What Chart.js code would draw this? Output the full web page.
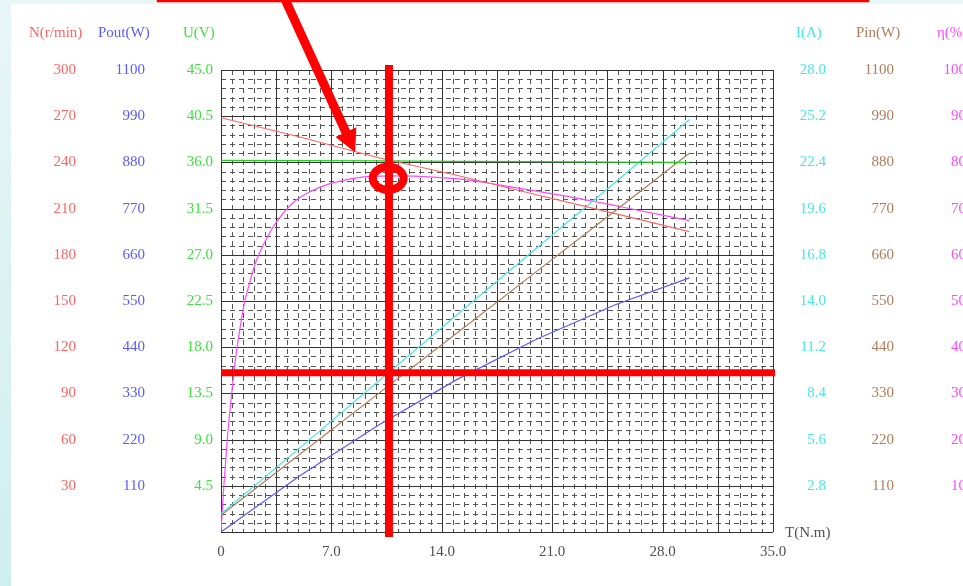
<!DOCTYPE html>
<html>
<head>
<meta charset="utf-8">
<script src="https://cdn.jsdelivr.net/npm/chart.js@4"></script>
<style>
html, body { margin: 0; padding: 0; overflow: hidden; background: #fff; }
#wrap { position: relative; width: 966px; height: 586px; }
</style>
</head>
<body>
<div id="wrap"><canvas id="motorChart"></canvas></div>
<script>
// torque points (N.m)
const torque = [0, 5, 10, 15, 20, 25, 29.7];
const speed = [269, 256.5, 243, 231.5, 219, 206.7, 195];
const outPower = [0, 134, 255, 364, 459, 541, 605];
const voltage = [36.2, 36.17, 36.14, 36.1, 36.07, 36.03, 36.0];
const current = [1.1, 5.1, 9.15, 13.2, 17.2, 21.2, 25.0];
const inPower = [40, 185, 330, 475, 620, 765, 902];

// efficiency curve needs more points near zero
const torqueEff = [0, 0.2, 0.42, 0.68, 0.93, 1.2, 1.48, 1.84, 2.16, 2.9, 3.53, 4.48, 5.0, 5.54, 6.8, 7.76, 9.2, 11.35, 13.5, 15.6, 17.7, 21.5, 25.5, 29.7];
const efficiency = [0, 11, 21, 30, 37.8, 44, 49.5, 54.2, 58, 63.6, 67.2, 71.0, 72.4, 73.5, 75.3, 76.1, 76.9, 77.1, 76.8, 76.2, 75.1, 72.9, 70.3, 67.4];

// cursor marks drawn on the screenshot (in T / U units)
const cursorT = 10.65;
const cursorU = 15.5;
const circleT = 10.6;
const circleU = 34.45;
const arrowTipT = 8.5;
const arrowTipU = 37.0;

const colors = {
    N: "#ff6464", Pout: "#5a5aff", U: "#3ee03e",
    I: "#48e6e6", Pin: "#b27c5a", eta: "#ff48ff"
};

function pts(xs, ys) {
    return xs.map((x, i) => ({ x: x, y: ys[i] }));
}

Chart.defaults.font.family = "'Liberation Serif', 'DejaVu Serif', serif";
Chart.defaults.font.size = 15;

const headers = [
    { id: "yN", text: "N(r/min)", dx: -47, color: colors.N },
    { id: "yPout", text: "Pout(W)", dx: -47, color: colors.Pout },
    { id: "yU", text: "U(V)", dx: -30, color: colors.U },
    { id: "yI", text: "I(A)", dx: -30, color: colors.I },
    { id: "yPin", text: "Pin(W)", dx: -38, color: colors.Pin },
    { id: "yEta", text: "η(%)", dx: -29, color: colors.eta }
];

const backdrop = {
    id: "backdrop",
    beforeDraw(chart) {
        const ctx = chart.ctx;
        const w = chart.width, h = chart.height;
        ctx.save();
        ctx.fillStyle = "#fff";
        ctx.fillRect(0, 0, w, h);
        const g = ctx.createLinearGradient(0, 0, 0, h);
        g.addColorStop(0, "#e8f6f6");
        g.addColorStop(1, "#cfeeee");
        ctx.fillStyle = g;
        ctx.fillRect(0, 0, 11, h);
        ctx.fillStyle = "#e8f6f6";
        ctx.fillRect(0, 0, w, 4);
        ctx.restore();
    },
    beforeDatasetsDraw(chart) {
        const ctx = chart.ctx;
        const ca = chart.chartArea;
        const xs = chart.scales.x;
        const ys = chart.scales.yU;
        ctx.save();
        ctx.lineWidth = 1;
        // minor dashed grid
        ctx.strokeStyle = "#555";
        ctx.setLineDash([5, 4]);
        for (let i = 1; i < 50; i++) {
            if (i % 5 === 0) continue;
            const px = Math.round(xs.getPixelForValue(i * 0.7)) + 0.5;
            ctx.beginPath(); ctx.moveTo(px, ca.top); ctx.lineTo(px, ca.bottom); ctx.stroke();
        }
        for (let j = 1; j < 50; j++) {
            if (j % 5 === 0) continue;
            const py = Math.round(ys.getPixelForValue(j * 0.9)) + 0.5;
            ctx.beginPath(); ctx.moveTo(ca.left, py); ctx.lineTo(ca.right, py); ctx.stroke();
        }
        // major grid
        ctx.setLineDash([]);
        ctx.strokeStyle = "#333";
        for (let i = 0; i <= 10; i++) {
            const px = Math.round(xs.getPixelForValue(i * 3.5)) + 0.5;
            ctx.beginPath(); ctx.moveTo(px, ca.top); ctx.lineTo(px, ca.bottom); ctx.stroke();
            const py = Math.round(ys.getPixelForValue(i * 4.5)) + 0.5;
            ctx.beginPath(); ctx.moveTo(ca.left, py); ctx.lineTo(ca.right, py); ctx.stroke();
        }
        // axis headers
        ctx.textBaseline = "middle";
        ctx.textAlign = "left";
        ctx.font = "15px 'Liberation Serif', serif";
        headers.forEach(hd => {
            const s = chart.scales[hd.id];
            const labelRight = s.position === "left" ? s.right - s.options.ticks.padding : s.right;
            ctx.fillStyle = hd.color;
            ctx.fillText(hd.text, labelRight + hd.dx, 33);
        });
        ctx.fillStyle = "#505050";
        ctx.fillText("T(N.m)", ca.right + 12, 533);
        ctx.restore();
    },
    afterDraw(chart) {
        const ctx = chart.ctx;
        const ca = chart.chartArea;
        const xs = chart.scales.x;
        const ys = chart.scales.yU;
        ctx.save();
        ctx.strokeStyle = "#ff0000";
        ctx.fillStyle = "#ff0000";
        // box edge at the top
        ctx.lineWidth = 2.5;
        ctx.strokeRect(158, -50, 710, 51);
        // cursor lines
        const cx = xs.getPixelForValue(cursorT);
        const cy = ys.getPixelForValue(cursorU);
        ctx.lineWidth = 8;
        ctx.beginPath(); ctx.moveTo(cx, ca.top - 5); ctx.lineTo(cx, ca.bottom + 5); ctx.stroke();
        ctx.lineWidth = 7;
        ctx.beginPath(); ctx.moveTo(ca.left, cy); ctx.lineTo(ca.right + 2, cy); ctx.stroke();
        // circle
        ctx.lineWidth = 8;
        ctx.beginPath();
        ctx.ellipse(xs.getPixelForValue(circleT), ys.getPixelForValue(circleU), 15.5, 11.5, 0, 0, Math.PI * 2);
        ctx.stroke();
        // arrow
        const tx = xs.getPixelForValue(arrowTipT), ty = ys.getPixelForValue(arrowTipU);
        const len = Math.hypot(0.458, 1);
        const dx = 0.458 / len, dy = 1 / len;
        ctx.lineWidth = 9;
        ctx.beginPath();
        ctx.moveTo(tx - dx * 175, ty - dy * 175);
        ctx.lineTo(tx - dx * 18, ty - dy * 18);
        ctx.stroke();
        const bx = tx - dx * 22, by = ty - dy * 22;
        ctx.beginPath();
        ctx.moveTo(tx, ty);
        ctx.lineTo(bx + dy * 11.5, by - dx * 11.5);
        ctx.lineTo(bx - dy * 11.5, by + dx * 11.5);
        ctx.closePath();
        ctx.fill();
        ctx.restore();
    }
};

function yAxis(pos, weight, width, max, step, color, pad, digits) {
    return {
        type: "linear",
        position: pos,
        weight: weight,
        min: 0,
        max: max,
        grid: { display: false, drawTicks: false },
        border: { display: false },
        ticks: {
            stepSize: step,
            color: color,
            padding: pad,
            crossAlign: pos === "right" ? "far" : "near",
            callback: v => v === 0 ? "" : v.toFixed(digits)
        },
        afterFit: s => { s.width = width; }
    };
}

new Chart(document.getElementById("motorChart"), {
    type: "line",
    data: {
        datasets: [
            { label: "N", data: pts(torque, speed), yAxisID: "yN", borderColor: colors.N },
            { label: "Pout", data: pts(torque, outPower), yAxisID: "yPout", borderColor: colors.Pout },
            { label: "U", data: pts(torque, voltage), yAxisID: "yU", borderColor: "#22d022" },
            { label: "I", data: pts(torque, current), yAxisID: "yI", borderColor: colors.I },
            { label: "Pin", data: pts(torque, inPower), yAxisID: "yPin", borderColor: colors.Pin },
            { label: "eta", data: pts(torqueEff, efficiency), yAxisID: "yEta", borderColor: colors.eta,
              cubicInterpolationMode: "monotone" }
        ]
    },
    options: {
        responsive: true,
        maintainAspectRatio: false,
        animation: false,
        layout: { padding: { top: 70, left: 0, right: 0, bottom: 0 } },
        elements: {
            point: { radius: 0 },
            line: { borderWidth: 1.2, fill: false }
        },
        plugins: {
            legend: { display: false },
            tooltip: { enabled: false }
        },
        scales: {
            x: {
                type: "linear",
                position: "bottom",
                min: 0,
                max: 35,
                grid: { display: false, drawTicks: false },
                border: { display: false },
                ticks: {
                    stepSize: 3.5,
                    autoSkip: false,
                    maxRotation: 0,
                    color: "#505050",
                    padding: 11,
                    callback: v => {
                        const k = v / 7;
                        if (Math.abs(k - Math.round(k)) > 1e-6) return "";
                        return v === 0 ? "0" : v.toFixed(1);
                    }
                },
                afterFit: s => { s.height = 54; }
            },
            yN: yAxis("left", 2, 80, 300, 30, colors.N, 4, 0),
            yPout: yAxis("left", 1, 70, 1100, 110, colors.Pout, 5, 0),
            yU: yAxis("left", 0, 71, 45, 4.5, colors.U, 8, 1),
            yI: yAxis("right", 0, 53, 28, 2.8, colors.I, 0, 1),
            yPin: yAxis("right", 1, 68, 1100, 110, colors.Pin, 0, 0),
            yEta: yAxis("right", 2, 72, 100, 10, colors.eta, 0, 0)
        }
    },
    plugins: [backdrop]
});
</script>
</body>
</html>
